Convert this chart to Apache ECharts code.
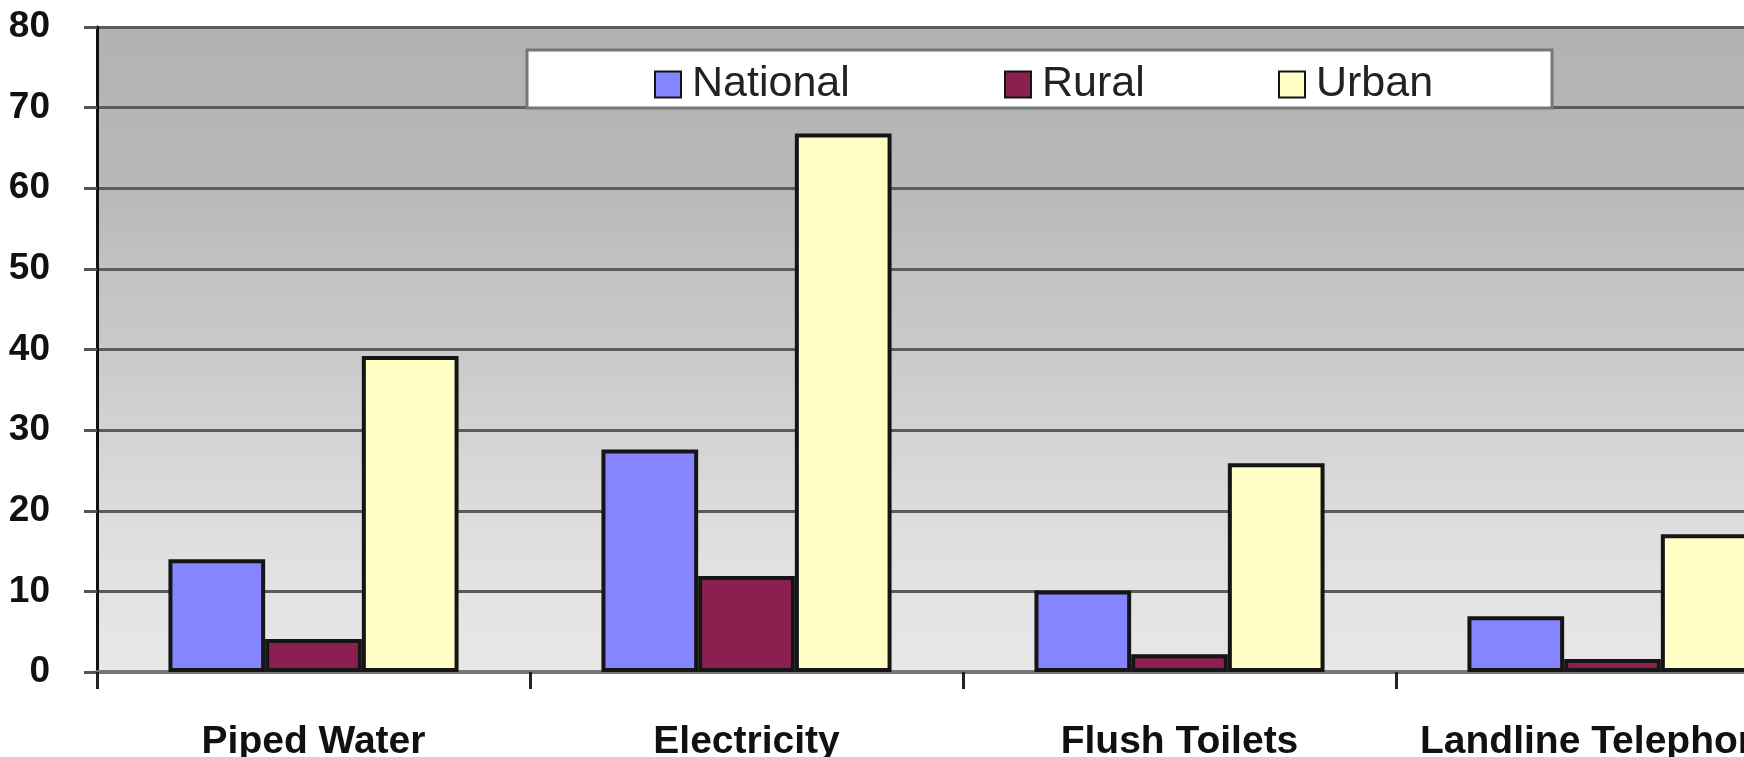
<!DOCTYPE html>
<html>
<head>
<meta charset="utf-8">
<script src="https://cdn.jsdelivr.net/npm/echarts@6/dist/echarts.min.js"></script>
<style>
html,body{margin:0;padding:0;background:#fff;overflow:hidden;width:1744px;height:757px;}
#c{width:1829px;height:757px;}
</style>
</head>
<body>
<div id="c"></div>
<script>
var categories = ['Piped Water', 'Electricity', 'Flush Toilets', 'Landline Telephones'];
var seriesNames = ['National', 'Rural', 'Urban'];
var national = [14, 27.6, 10.1, 6.9];
var rural = [4.1, 11.9, 2.2, 1.6];
var urban = [39.2, 66.8, 25.9, 17.1];
var yTicks = [0, 10, 20, 30, 40, 50, 60, 70, 80];

var colors = ['#8585ff', '#8a1f50', '#ffffc6'];
var font = '"Liberation Sans", Arial, sans-serif';

var chart = echarts.init(document.getElementById('c'), null, {renderer: 'canvas'});

function legendFor(name, left) {
  return {
    data: [name],
    left: left,
    top: 63,
    padding: 0,
    itemWidth: 26,
    itemHeight: 26,
    icon: 'rect',
    z: 10,
    selectedMode: false,
    textStyle: {fontFamily: font, fontSize: 43, color: '#222', lineHeight: 40, padding: [0, 0, 0, 6]}
  };
}

var dataSets = [national, rural, urban];

var option = {
  backgroundColor: '#ffffff',
  animation: false,
  color: colors,
  grid: {
    left: 97, top: 27, bottom: 85, right: 0,
    outerBoundsMode: 'none',
    show: true,
    borderWidth: 0,
    backgroundColor: new echarts.graphic.LinearGradient(0, 0, 0, 1, [
      {offset: 0, color: '#b2b2b2'},
      {offset: 0.25, color: '#b8b8b8'},
      {offset: 0.375, color: '#c2c2c2'},
      {offset: 0.5, color: '#c9c9c9'},
      {offset: 0.625, color: '#d3d3d3'},
      {offset: 0.75, color: '#dcdcdc'},
      {offset: 0.875, color: '#e3e3e3'},
      {offset: 1, color: '#e7e7e7'}
    ])
  },
  graphic: [{
    type: 'rect',
    z: 5,
    shape: {x: 527, y: 50, width: 1025, height: 58},
    style: {fill: '#ffffff', stroke: '#777777', lineWidth: 3}
  }],
  legend: [
    legendFor('National', 654),
    legendFor('Rural', 1004),
    legendFor('Urban', 1278)
  ],
  xAxis: {
    type: 'category',
    data: categories,
    axisLine: {show: true, lineStyle: {color: '#777777', width: 4}},
    axisTick: {show: true, length: 17, lineStyle: {color: '#222222', width: 3}},
    axisLabel: {
      fontFamily: font, fontSize: 39, fontWeight: 'bold', color: '#111',
      margin: 51, lineHeight: 39, interval: 0
    },
    splitLine: {show: false}
  },
  yAxis: {
    type: 'value',
    min: yTicks[0],
    max: yTicks[yTicks.length - 1],
    interval: 10,
    axisLine: {show: true, lineStyle: {color: '#111111', width: 3}},
    axisTick: {show: true, inside: false, length: 13, lineStyle: {color: '#555555', width: 3}},
    axisLabel: {
      fontFamily: font, fontSize: 37, fontWeight: 'bold', color: '#111',
      margin: 47
    },
    splitLine: {show: true, lineStyle: {color: '#5c5c5c', width: 3}}
  },
  series: seriesNames.map(function (n, i) {
    return {
      name: n,
      type: 'bar',
      data: dataSets[i],
      barGap: '0%',
      barCategoryGap: '33%',
      itemStyle: {color: colors[i], borderColor: '#151515', borderWidth: 4}
    };
  })
};

chart.setOption(option);
</script>
</body>
</html>
